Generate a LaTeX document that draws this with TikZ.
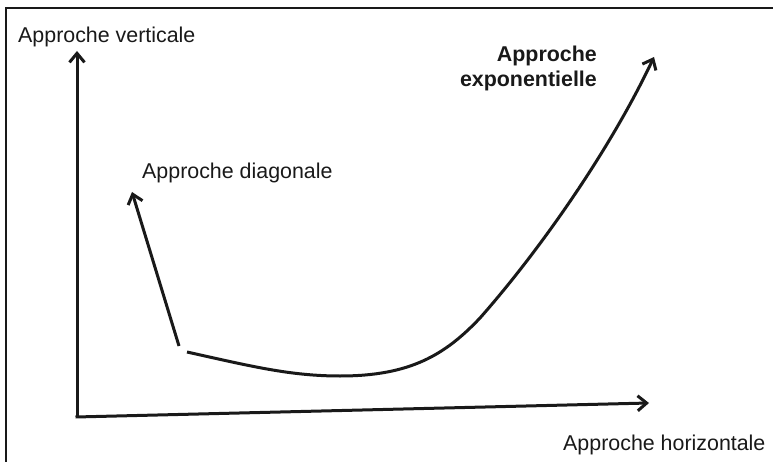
\documentclass[tikz,border=0pt]{standalone}
\usepackage{fontspec}
\setmainfont{Liberation Sans}
\usetikzlibrary{arrows.meta}
\begin{document}
\begin{tikzpicture}[x=1pt,y=-1pt,
  axis/.style={line width=3pt, color=black!90, -{Straight Barb[length=9pt,width=15pt,line width=3pt]}},
  lbl/.style={inner sep=0pt, font=\fontsize{21.4}{25}\selectfont, color=black!90},
  frame/.style={line width=2pt, color=black!90}]
\useasboundingbox (0,0) rectangle (773,462);
\draw[frame] (6,470) -- (6,8) -- (780,8);
% coordinates
\coordinate (O) at (77,417);
\coordinate (Vtop) at (77,51);
\coordinate (Hend) at (649,403);
\coordinate (Dstart) at (179,346);
\coordinate (Dend) at (132,192);
\coordinate (Cstart) at (187,352);
\coordinate (Cend) at (654,57);
% axes
\draw[axis, line cap=butt] (O) -- (Vtop);
\draw[axis] ([xshift=-1.5pt]O) -- (Hend);
% diagonal
\draw[axis] (Dstart) -- (Dend);
% exponential curve
\draw[axis] (Cstart) .. controls (250,366) and (290,376) .. (340,376)
  .. controls (410,376) and (445,355) .. (480,318)
  .. controls (540,250) and (610,150) .. (Cend);
% labels
\node[lbl, anchor=base west] (lv) at (18,43) {Approche verticale};
\node[lbl, anchor=base west] (ld) at (142,179) {Approche diagonale};
\node[lbl, anchor=base east, align=right, font=\fontsize{21.4}{25}\selectfont\bfseries] (le) at (597,87) {Approche\\exponentielle};
\node[lbl, anchor=base west] (lh) at (563,450) {Approche horizontale};
\end{tikzpicture}
\end{document}
